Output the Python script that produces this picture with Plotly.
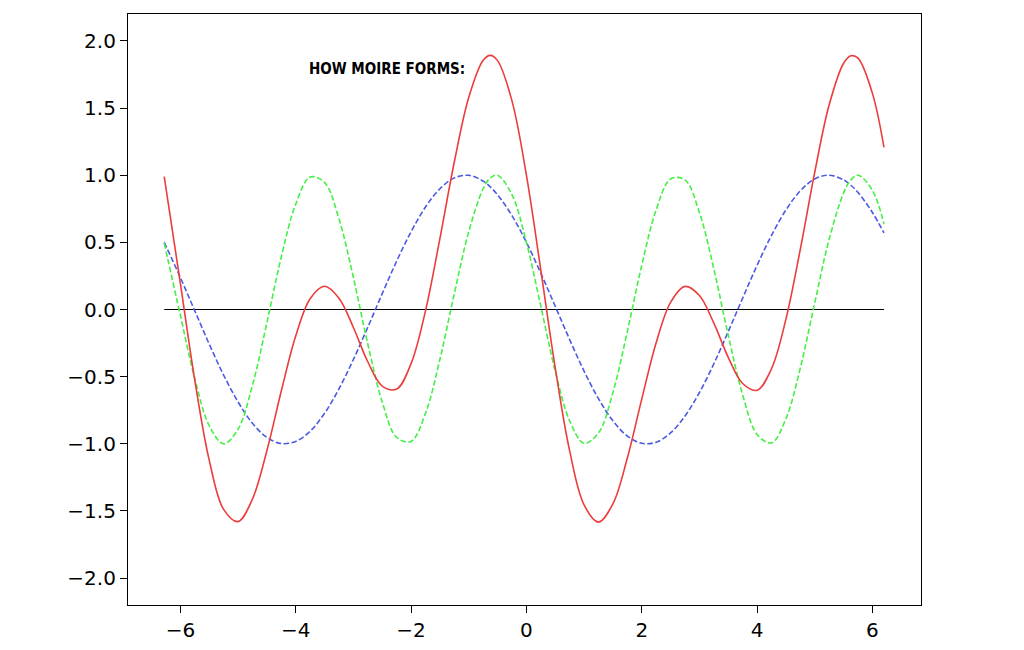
import plotly.graph_objects as go

x = [-6.28, -6.0, -5.75, -5.5, -5.25, -5.0, -4.75, -4.5, -4.25, -4.0, -3.75, -3.5, -3.25,
     -3.0, -2.75, -2.5, -2.25, -2.0, -1.75, -1.5, -1.25, -1.0, -0.75, -0.625, -0.5, -0.25, 0.0,
     0.25, 0.5, 0.75, 1.0, 1.25, 1.5, 1.75, 2.0, 2.25, 2.5, 2.75, 3.0, 3.25, 3.5, 3.75,
     4.0, 4.25, 4.5, 4.75, 5.0, 5.25, 5.5, 5.625, 5.75, 6.0, 6.2]

wave_long = [0.50, 0.238, -0.010, -0.257, -0.488, -0.688, -0.847, -0.952, -0.998, -0.982,
             -0.906, -0.773, -0.591, -0.372, -0.132, 0.118, 0.360, 0.579, 0.763, 0.899,
             0.980, 0.999, 0.956, 0.912, 0.854, 0.699, 0.500, 0.270, 0.024, -0.224, -0.459,
             -0.664, -0.829, -0.942, -0.996, -0.988, -0.919, -0.793, -0.618, -0.404,
             -0.164, 0.085, 0.329, 0.552, 0.741, 0.884, 0.972, 1.000, 0.965, 0.925, 0.871,
             0.722, 0.570]

wave_short = [0.494, -0.043, -0.516, -0.864, -1.000, -0.891, -0.564, -0.099, 0.391, 0.784,
              0.986, 0.946, 0.675, 0.238, -0.257, -0.688, -0.952, -0.982, -0.773, -0.372,
              0.118, 0.579, 0.899, 0.980, 0.999, 0.854, 0.500, 0.024, -0.459, -0.829, -0.996,
              -0.919, -0.618, -0.164, 0.329, 0.741, 0.972, 0.965, 0.722, 0.302, -0.192,
              -0.636, -0.930, -0.993, -0.813, -0.434, 0.051, 0.524, 0.868, 0.964, 1.000, 0.887,
              0.637]

moire = [0.99, 0.195, -0.526, -1.121, -1.488, -1.579, -1.411, -1.051, -0.607, -0.198,
         0.080, 0.173, 0.084, -0.134, -0.389, -0.570, -0.592, -0.403, -0.010, 0.527,
         1.098, 1.578, 1.855, 1.892, 1.853, 1.553, 1.000, 0.294, -0.435, -1.053, -1.455,
         -1.583, -1.447, -1.106, -0.667, -0.247, 0.053, 0.172, 0.104, -0.102, -0.356,
         -0.551, -0.601, -0.441, -0.072, 0.450, 1.023, 1.524, 1.833, 1.889, 1.871, 1.609,
         1.207]

baseline_x = [-6.28, 6.2]
baseline_y = [0.0, 0.0]

x_ticks = [-6, -4, -2, 0, 2, 4, 6]
x_tick_labels = ["\u22126", "\u22124", "\u22122", "0", "2", "4", "6"]
y_ticks = [-2.0, -1.5, -1.0, -0.5, 0.0, 0.5, 1.0, 1.5, 2.0]
y_tick_labels = ["\u22122.0", "\u22121.5", "\u22121.0", "\u22120.5", "0.0", "0.5", "1.0", "1.5", "2.0"]

title_text = "HOW MOIRE FORMS:"

fig = go.Figure()
fig.add_trace(go.Scatter(x=baseline_x, y=baseline_y, mode="lines",
                         line=dict(color="black", width=1.1)))
fig.add_trace(go.Scatter(x=x, y=wave_long, mode="lines", line_shape="spline",
                         line=dict(color="rgb(75,90,228)", width=1.6, dash="5.5px,2.5px")))
fig.add_trace(go.Scatter(x=x, y=wave_short, mode="lines", line_shape="spline",
                         line=dict(color="rgb(70,238,70)", width=1.6, dash="5.5px,2.5px")))
fig.add_trace(go.Scatter(x=x, y=moire, mode="lines", line_shape="spline",
                         line=dict(color="rgb(236,60,60)", width=1.6)))

fig.add_annotation(x=-3.8, y=1.79, xref="x", yref="y", text=title_text,
                   showarrow=False, xanchor="left", yanchor="middle",
                   font=dict(family="DejaVu Sans Condensed, Liberation Sans Narrow, Arial Narrow, sans-serif",
                             size=15, color="black", weight="bold"))

axis_common = dict(showline=True, linecolor="black", linewidth=1.2, mirror=True,
                   showgrid=False, zeroline=False, ticks="outside", ticklen=7,
                   tickwidth=1.2, tickcolor="black", automargin=False,
                   tickfont=dict(family="DejaVu Sans", size=20, color="black"))

fig.update_xaxes(range=[-6.908, 6.842], tickvals=x_ticks, ticktext=x_tick_labels, **axis_common)
fig.update_yaxes(range=[-2.2, 2.2], tickvals=y_ticks, ticktext=y_tick_labels, **axis_common)

fig.update_layout(width=1008, height=642, showlegend=False,
                  plot_bgcolor="white", paper_bgcolor="white",
                  margin=dict(l=120, r=95, t=6, b=45))

fig.write_html("out.html", config={"displayModeBar": False})
